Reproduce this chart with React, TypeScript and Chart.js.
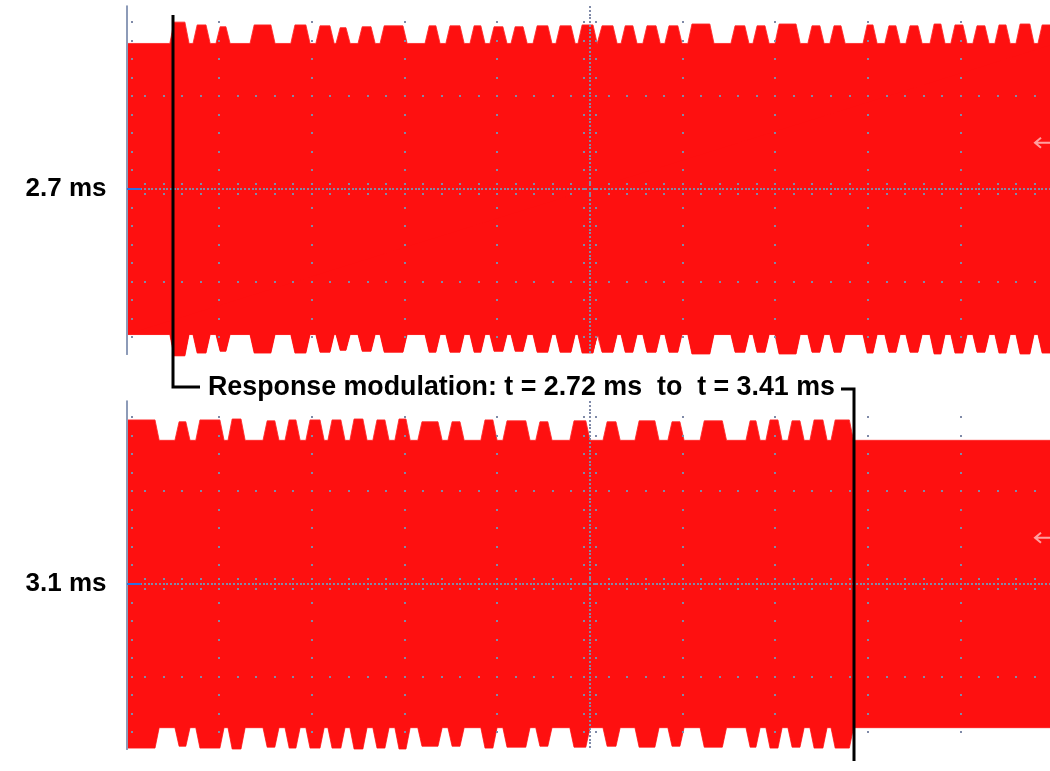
import React, { useEffect, useRef } from "react";
import { Chart, registerables } from "chart.js";

Chart.register(...registerables);

// ---------------- data ----------------
const TOP_START = 2.7;
const TOP_END = 3.1;
const BOT_START = 3.1;
const BOT_END = 3.5;
const DIV_MS = 0.04; // ms per horizontal division
const PANEL_LABELS = ["2.7 ms", "3.1 ms"];

// envelope baseline (divisions from trace centre)
const TOP_BASE = 1.57;
const BOT_BASE = 1.55;

// modulation bumps: [start ms, end ms, peak level (div)] (edges read at half height)
const topBumps: [number, number, number][] = [
  [2.7196, 2.7261, 1.8],
  [2.7296, 2.7352, 1.77],
  [2.7395, 2.7438, 1.75],
  [2.7542, 2.7632, 1.77],
  [2.7718, 2.7783, 1.77],
  [2.7826, 2.7887, 1.76],
  [2.7913, 2.7956, 1.74],
  [2.8008, 2.8064, 1.75],
  [2.8103, 2.8202, 1.76],
  [2.8297, 2.8344, 1.76],
  [2.8387, 2.8448, 1.76],
  [2.8491, 2.8538, 1.76],
  [2.8577, 2.8633, 1.75],
  [2.8668, 2.872, 1.75],
  [2.8763, 2.8827, 1.76],
  [2.8862, 2.8927, 1.76],
  [2.8957, 2.9022, 1.77],
  [2.9043, 2.9108, 1.76],
  [2.9143, 2.9194, 1.76],
  [2.9237, 2.9294, 1.76],
  [2.9332, 2.9388, 1.76],
  [2.9431, 2.9526, 1.78],
  [2.9617, 2.9677, 1.76],
  [2.9712, 2.9764, 1.76],
  [2.9807, 2.9898, 1.78],
  [2.9949, 3.0001, 1.76],
  [3.0044, 3.0092, 1.76],
  [3.0187, 3.023, 1.77],
  [3.0281, 3.0329, 1.76],
  [3.0372, 3.0424, 1.76],
  [3.0476, 3.0523, 1.78],
  [3.0566, 3.0618, 1.77],
  [3.0661, 3.0713, 1.76],
  [3.0756, 3.0804, 1.77],
  [3.0847, 3.0907, 1.78],
  [3.0942, 3.1, 1.77],
];

const botBumps: [number, number, number][] = [
  [3.1, 3.1132, 1.77],
  [3.1218, 3.1265, 1.75],
  [3.1308, 3.1412, 1.77],
  [3.1447, 3.1503, 1.78],
  [3.1598, 3.1649, 1.76],
  [3.1693, 3.174, 1.77],
  [3.1783, 3.1844, 1.77],
  [3.1878, 3.1934, 1.77],
  [3.1973, 3.2029, 1.78],
  [3.2072, 3.2124, 1.77],
  [3.2167, 3.2215, 1.78],
  [3.2266, 3.2353, 1.75],
  [3.2396, 3.2448, 1.75],
  [3.2538, 3.259, 1.77],
  [3.2633, 3.2732, 1.76],
  [3.2775, 3.2827, 1.75],
  [3.2922, 3.2991, 1.76],
  [3.3065, 3.3121, 1.75],
  [3.3203, 3.3289, 1.76],
  [3.3345, 3.3397, 1.75],
  [3.3484, 3.358, 1.76],
  [3.3682, 3.3725, 1.76],
  [3.3768, 3.382, 1.77],
  [3.3863, 3.3915, 1.76],
  [3.3958, 3.4014, 1.77],
  [3.4049, 3.4128, 1.77],
];

const MOD_START = 2.72;
const MOD_END = 3.414;
const ANNOTATION = "Response modulation: t = 2.72 ms  to  t = 3.41 ms";

// ---------------- layout ----------------
const W = 1050;
const H = 771;
const X0 = 126.5; // pixel of panel start time
const PX_DIV = 92.7; // pixels per division
const TOP_CENTER = 189;
const BOT_CENTER = 584;
const PANEL_HI = 1.98;
const PANEL_LO = -1.79;
const RAMP_MS = 0.0009; // half-width of each bump flank

const RED = "#fe1010";
const DOT = "#7f8aa8";

type P = { x: number; y: number };

function buildEnvelope(start: number, end: number, base: number, bumps: [number, number, number][], sign: number): P[] {
  const pts: P[] = [];
  if (!(bumps.length && bumps[0][0] <= start)) pts.push({ x: start, y: sign * base });
  for (const [s, e, pk] of bumps) {
    if (s <= start) {
      pts.push({ x: start, y: sign * pk });
    } else {
      pts.push({ x: s - RAMP_MS, y: sign * base });
      pts.push({ x: s + RAMP_MS, y: sign * pk });
    }
    pts.push({ x: e - RAMP_MS, y: sign * pk });
    pts.push({ x: e + RAMP_MS, y: sign * base });
  }
  pts.push({ x: end, y: sign * base });
  return pts;
}

const graticulePlugin = {
  id: "graticule",
  afterDatasetsDraw(chart: any) {
    const ctx = chart.ctx;
    const panels = [
      { xs: chart.scales.xTop, ys: chart.scales.yTop, start: TOP_START },
      { xs: chart.scales.xBot, ys: chart.scales.yBot, start: BOT_START },
    ];
    ctx.save();
    const dot = (x: number, y: number) => {
      ctx.fillRect(Math.round(x) - 1, Math.round(y) - 1, 2, 2);
    };
    for (const { xs, ys, start } of panels) {
      ctx.fillStyle = DOT;
      const yTopPx = ys.getPixelForValue(PANEL_HI);
      const yBotPx = ys.getPixelForValue(PANEL_LO);
      for (let k = 1; k <= 10; k++) {
        if (k === 5) continue;
        const x = xs.getPixelForValue(start + k * DIV_MS);
        for (let j = -9; j <= 10; j++) {
          const v = j * 0.2;
          if (v > PANEL_HI || v < PANEL_LO) continue;
          dot(x, ys.getPixelForValue(v));
        }
      }
      for (const lv of [1, -1]) {
        const y = ys.getPixelForValue(lv);
        for (let j = 1; j <= 50; j++) dot(xs.getPixelForValue(start + j * DIV_MS * 0.2), y);
      }
      const yc = ys.getPixelForValue(0);
      for (let j = 1; j <= 250; j++) {
        const x = xs.getPixelForValue(start + j * DIV_MS * 0.04);
        dot(x, yc);
        if (j % 5 === 0) {
          dot(x, yc - 5);
          dot(x, yc + 5);
        }
      }
      const xc = xs.getPixelForValue(start + 5 * DIV_MS);
      for (let j = -44; j <= 49; j++) {
        const y = ys.getPixelForValue(j * 0.04);
        dot(xc, y);
        if (j % 5 === 0) {
          dot(xc - 6, y);
          dot(xc + 6, y);
        }
      }
      const xl = xs.getPixelForValue(start);
      ctx.fillStyle = "#8d9bb8";
      ctx.fillRect(Math.round(xl) - 1, yTopPx, 2, yBotPx - yTopPx);
      ctx.fillStyle = DOT;
      for (let j = -9; j <= 10; j++) {
        const v = j * 0.2;
        if (v > PANEL_HI || v < PANEL_LO) continue;
        dot(xl + 5, ys.getPixelForValue(v));
      }
      ctx.fillStyle = "#2f6fe0";
      ctx.fillRect(Math.round(xl), Math.round(yc) - 1, 14, 2);
      const yt = ys.getPixelForValue(0.5);
      ctx.strokeStyle = "rgba(255,175,175,0.9)";
      ctx.lineWidth = 2;
      ctx.beginPath();
      ctx.moveTo(1035, yt);
      ctx.lineTo(1050, yt);
      ctx.moveTo(1041, yt - 5);
      ctx.lineTo(1035, yt);
      ctx.lineTo(1041, yt + 5);
      ctx.stroke();
    }
    ctx.restore();
  },
  afterDraw(chart: any) {
    const ctx = chart.ctx;
    const { xTop, yTop, xBot, yBot } = chart.scales;
    ctx.save();
    ctx.fillStyle = "#000";
    ctx.font = "bold 26px 'Liberation Sans', Arial, sans-serif";
    ctx.textAlign = "right";
    ctx.textBaseline = "middle";
    ctx.fillText(PANEL_LABELS[0], X0 - 20, yTop.getPixelForValue(0));
    ctx.fillText(PANEL_LABELS[1], X0 - 20, yBot.getPixelForValue(0));

    const xa = Math.round(xTop.getPixelForValue(MOD_START));
    const ya = yTop.getPixelForValue(1.877);
    const ym = Math.round(yTop.getPixelForValue(-2.136));
    const xb = Math.round(xBot.getPixelForValue(MOD_END));
    const yb = yBot.getPixelForValue(-1.909);
    ctx.strokeStyle = "#000";
    ctx.lineWidth = 3;
    ctx.lineJoin = "miter";
    ctx.beginPath();
    ctx.moveTo(xa, ya);
    ctx.lineTo(xa, ym);
    ctx.lineTo(xa + 27, ym);
    ctx.stroke();
    ctx.beginPath();
    ctx.moveTo(xb - 13, ym + 2);
    ctx.lineTo(xb, ym + 2);
    ctx.lineTo(xb, yb);
    ctx.stroke();
    ctx.textAlign = "left";
    ctx.font = "bold 26.8px 'Liberation Sans', Arial, sans-serif";
    ctx.fillText(ANNOTATION, xa + 35, ym + 1);
    ctx.restore();
  },
};

export default function App() {
  const ref = useRef<HTMLCanvasElement | null>(null);
  useEffect(() => {
    if (!ref.current) return;
    const msPerPx = DIV_MS / PX_DIV;
    const common = {
      pointRadius: 0,
      borderWidth: 1,
      borderColor: "rgba(255,40,40,0.85)",
      backgroundColor: RED,
      tension: 0,
    };
    const chart = new Chart(ref.current, {
      type: "line",
      data: {
        datasets: [
          { ...common, data: buildEnvelope(TOP_START, TOP_END, TOP_BASE, topBumps, 1), xAxisID: "xTop", yAxisID: "yTop", fill: "+1" },
          { ...common, data: buildEnvelope(TOP_START, TOP_END, TOP_BASE, topBumps, -1), xAxisID: "xTop", yAxisID: "yTop", fill: false },
          { ...common, data: buildEnvelope(BOT_START, BOT_END, BOT_BASE, botBumps, 1), xAxisID: "xBot", yAxisID: "yBot", fill: "+1" },
          { ...common, data: buildEnvelope(BOT_START, BOT_END, BOT_BASE, botBumps, -1), xAxisID: "xBot", yAxisID: "yBot", fill: false },
        ] as any,
      },
      options: {
        animation: false,
        responsive: false,
        maintainAspectRatio: false,
        layout: { padding: 0 },
        plugins: { legend: { display: false }, tooltip: { enabled: false } },
        scales: {
          xTop: { type: "linear", display: false, min: TOP_START - X0 * msPerPx, max: TOP_START + (W - X0) * msPerPx },
          xBot: { type: "linear", display: false, min: BOT_START - X0 * msPerPx, max: BOT_START + (W - X0) * msPerPx },
          yTop: { type: "linear", display: false, min: -(H - TOP_CENTER) / PX_DIV, max: TOP_CENTER / PX_DIV },
          yBot: { type: "linear", display: false, min: -(H - BOT_CENTER) / PX_DIV, max: BOT_CENTER / PX_DIV },
        },
      } as any,
      plugins: [graticulePlugin],
    });
    return () => chart.destroy();
  }, []);
  return (
    <div style={{ position: "fixed", left: 0, top: 0, width: W, height: H, background: "#fff" }}>
      <canvas ref={ref} width={W} height={H} style={{ width: W, height: H, display: "block" }} />
    </div>
  );
}
